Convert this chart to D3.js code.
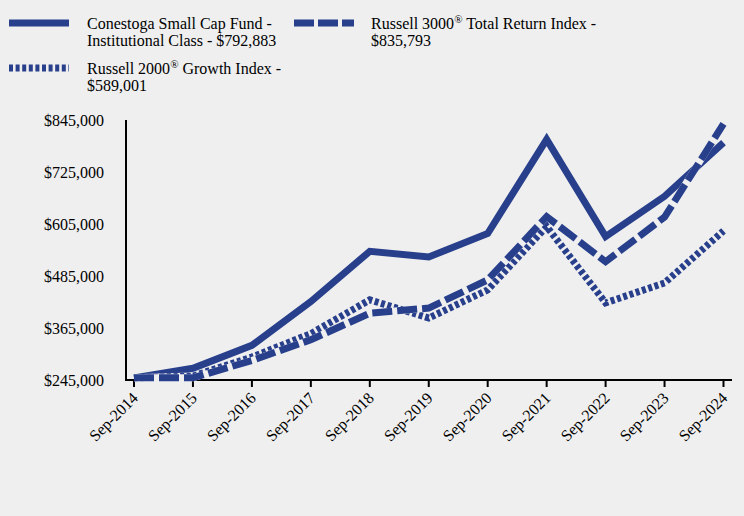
<!DOCTYPE html>
<html><head><meta charset="utf-8">
<script src="https://cdn.jsdelivr.net/npm/d3@7"></script>
<style>
html,body{margin:0;padding:0;background:#efefef;}
svg{display:block;}
text{font-family:"Liberation Serif","Times New Roman",serif !important;fill:#000;}
</style></head>
<body><svg id="c" width="744" height="516"></svg>
<script>
const categories = ["Sep-2014","Sep-2015","Sep-2016","Sep-2017","Sep-2018","Sep-2019","Sep-2020","Sep-2021","Sep-2022","Sep-2023","Sep-2024"];
const fundValues = [250000, 272000, 325000, 426000, 542000, 529000, 583000, 800000, 576000, 669000, 792883];
const r3000Values = [250000, 250000, 290000, 338000, 399000, 411000, 476000, 622000, 518000, 621000, 835793];
const r2000gValues = [250000, 254000, 298000, 352000, 430000, 388000, 453000, 599000, 423000, 469000, 589001];
const yTicks = [245000, 365000, 485000, 605000, 725000, 845000];
const seriesNames = ["Conestoga Small Cap Fund - Institutional Class - $792,883","Russell 3000® Total Return Index - $835,793","Russell 2000® Growth Index - $589,001"];

const color = "#283f8c", bg = "#efefef";
const svg = d3.select("#c");
svg.append("rect").attr("width",744).attr("height",516).attr("fill",bg);

const x = d3.scalePoint().domain(categories).range([134, 723.5]);
const y = d3.scaleLinear().domain([245000, 845000]).range([380, 120]);

// axes
const yAxis = svg.append("g").attr("transform","translate(126,0)")
  .call(d3.axisLeft(y).tickValues(yTicks).tickSize(0).tickPadding(22).tickFormat(d=>"$"+d3.format(",")(d)));
yAxis.attr("font-family",null);
yAxis.select(".domain").attr("stroke","#000").attr("stroke-width",2).attr("d","M0,120V380");
yAxis.selectAll("text").attr("font-size",16).attr("fill","#000");

const xg = svg.append("g").attr("transform","translate(0,380)");
xg.append("line").attr("x1",125).attr("x2",732).attr("y1",0).attr("y2",0).attr("stroke","#000").attr("stroke-width",2);
xg.selectAll("line.t").data(categories).enter().append("line").attr("class","t")
  .attr("x1",d=>x(d)).attr("x2",d=>x(d)).attr("y1",0).attr("y2",7).attr("stroke","#000").attr("stroke-width",2);
xg.selectAll("text").data(categories).enter().append("text")
  .attr("text-anchor","end").attr("font-size",16)
  .attr("transform",d=>`translate(${x(d)+5},${19}) rotate(-45)`)
  .text(d=>d);

// lines
const line = d3.line().x((d,i)=>x(categories[i])).y(d=>y(d));
function draw(vals, dash){
  if(dash){
    svg.append("path").datum(vals).attr("d",line).attr("fill","none").attr("stroke",bg).attr("stroke-width",7);
  }
  svg.append("path").datum(vals).attr("d",line).attr("fill","none").attr("stroke",color)
    .attr("stroke-width",7).attr("stroke-dasharray",dash||null).attr("stroke-linejoin","miter");
}
draw(fundValues, null);
draw(r2000gValues, "4,2.6");
draw(r3000Values, "20,5");

// legend
const leg = [
  {x:9, y:23, dash:null, tx:87, lines:["Conestoga Small Cap Fund -","Institutional Class - $792,883"]},
  {x:294, y:23, dash:"20,4", tx:371, lines:["Russell 3000","$835,793"], sup:" Total Return Index -"},
  {x:9, y:68, dash:"4,2.6", tx:87, lines:["Russell 2000","$589,001"], sup:" Growth Index -"}
];
leg.forEach(l=>{
  svg.append("line").attr("x1",l.x).attr("x2",l.x+60).attr("y1",l.y).attr("y2",l.y)
    .attr("stroke",color).attr("stroke-width",7).attr("stroke-dasharray",l.dash);
  const t1 = svg.append("text").attr("x",l.tx).attr("y",l.y+6).attr("font-size",16);
  t1.append("tspan").text(l.lines[0]);
  if(l.sup){
    t1.append("tspan").attr("font-size",11).attr("dy",-6).text("®");
    t1.append("tspan").attr("dy",6).text(l.sup);
  }
  svg.append("text").attr("x",l.tx).attr("y",l.y+23).attr("font-size",16).text(l.lines[1]);
});
</script></body></html>
